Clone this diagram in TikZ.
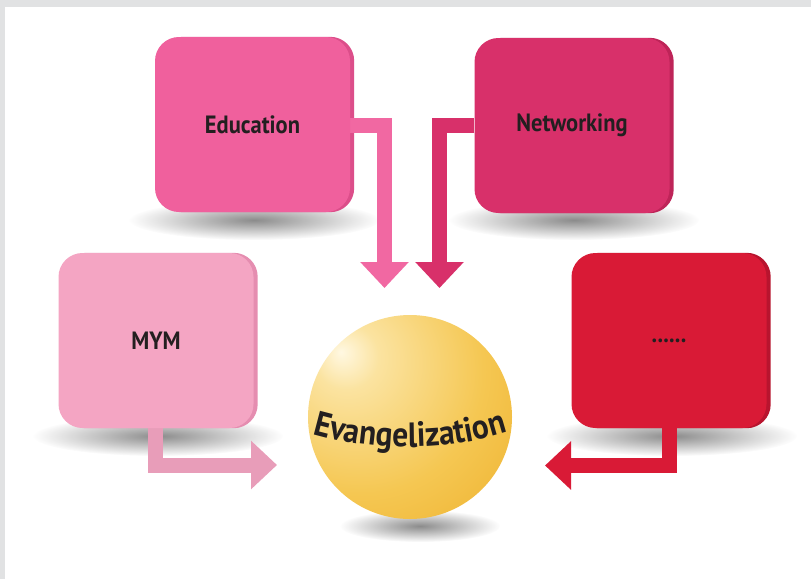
\documentclass[tikz,border=0pt]{standalone}
\usepackage{fontspec}
\setmainfont{PT Sans}
\newfontfamily\labfont{PT Sans}[FakeStretch=0.9]
\usetikzlibrary{arrows.meta,decorations.text,fadings,backgrounds}
\definecolor{frame}{HTML}{E1E2E3}
\definecolor{edu}{HTML}{F0609D}
\definecolor{eduside}{HTML}{DC4E8A}
\definecolor{net}{HTML}{D8306A}
\definecolor{netside}{HTML}{BE2458}
\definecolor{mym}{HTML}{F4A5C3}
\definecolor{mymside}{HTML}{E58DB0}
\definecolor{dts}{HTML}{D91A36}
\definecolor{dtsside}{HTML}{B8142E}
\definecolor{ink}{HTML}{231F20}
\definecolor{g0}{HTML}{FFF8E2}
\definecolor{g1}{HTML}{FBE3A0}
\definecolor{g2}{HTML}{F5C752}
\definecolor{g3}{HTML}{ECAA22}
\definecolor{g4}{HTML}{E09C0A}
\pgfdeclareradialshading{goldball}{\pgfpoint{-17bp}{16bp}}{color(0bp)=(g0); color(8bp)=(g1); color(30bp)=(g2); color(56bp)=(g3); color(72bp)=(g4); color(100bp)=(g4)}
\tikzfading[name=softshadow, inner color=transparent!0, outer color=transparent!100]
\tikzset{
  box/.style={rounded corners=24pt, minimum width=195pt, minimum height=175pt, inner sep=0pt,
    font=\labfont\bfseries\fontsize{25}{25}\selectfont, text=ink},
  flow/.style={line width=15pt, line join=miter, -{Triangle[length=26pt,width=47pt]}},
  shadowblob/.style={fill=black!45, path fading=softshadow}
}
\begin{document}
\begin{tikzpicture}[x=1pt,y=-1pt]
\useasboundingbox (0,0) rectangle (811,579);
% boxes
\node[box, fill=edu] (edu) at (252.5,124.5) {Education};
\node[box, fill=net] (net) at (572,125.5) {Networking};
\node[box, fill=mym] (mym) at (156,340.5) {MYM};
\node[box, fill=dts] (dts) at (669,340.5) {......};
% sphere
\node[circle, minimum size=204pt, inner sep=0pt, shading=goldball] (ev) at (410,417) {};
\coordinate (evL) at (309,433);
\coordinate (evR) at (511,431);
\path[decorate, decoration={text along path, text align=center,
  text={|\labfont\bfseries\fontsize{35}{35}\selectfont\color{ink}|Evangelization}}]
  (evL) .. controls (372,452) and (448,452) .. (evR);
% arrow ends
\coordinate (eduTip) at (384.5,288);
\coordinate (netTip) at (439.5,288);
\coordinate (mymTip) at (277,465);
\coordinate (dtsTip) at (545,465.5);
\begin{pgfonlayer}{background}
  \fill[white] (0,0) rectangle (811,579);
  % shadows
  \fill[shadowblob] (254,220) ellipse (125pt and 20pt);
  \fill[shadowblob] (574,220) ellipse (125pt and 20pt);
  \fill[shadowblob] (158,436) ellipse (125pt and 20pt);
  \fill[shadowblob] (672,436) ellipse (125pt and 20pt);
  \fill[shadowblob] (420,526) ellipse (80pt and 16pt);
  \fill[frame] (0,0) rectangle (811,7);
  \fill[frame] (0,0) rectangle (5,579);
  % 3D sides
  \fill[eduside, rounded corners=24pt] ([xshift=4pt]edu.south west) rectangle ([xshift=4pt]edu.north east);
  \fill[netside, rounded corners=24pt] ([xshift=4pt]net.south west) rectangle ([xshift=4pt]net.north east);
  \fill[mymside, rounded corners=24pt] ([xshift=4pt]mym.south west) rectangle ([xshift=4pt]mym.north east);
  \fill[dtsside, rounded corners=24pt] ([xshift=4pt]dts.south west) rectangle ([xshift=4pt]dts.north east);
  % connectors
  \draw[flow, draw=edu!95!white] ([yshift=-1pt]edu.east) -| (eduTip);
  \draw[flow, draw=net] (net.west) -| (netTip);
  \draw[flow, draw=mym!95!black] ([xshift=-1pt]mym.south) |- (mymTip);
  \draw[flow, draw=dts] (dts.south) |- (dtsTip);
\end{pgfonlayer}
\end{tikzpicture}
\end{document}
